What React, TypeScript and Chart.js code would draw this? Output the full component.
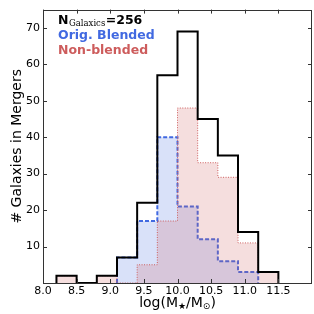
import React, { useEffect, useRef } from "react";
import { Chart, registerables } from "chart.js";

Chart.register(...registerables);

const binEdges = [8.2, 8.5, 8.8, 9.1, 9.4, 9.7, 10.0, 10.3, 10.6, 10.9, 11.2, 11.5];
const totalCounts = [2, 0, 2, 7, 22, 57, 69, 45, 35, 14, 3];
const blendedCounts = [0, 0, 0, 7, 17, 40, 21, 12, 6, 3, 0];
const nonBlendedCounts = [2, 0, 2, 0, 5, 17, 48, 33, 29, 11, 3];
const xTickValues = [8.0, 8.5, 9.0, 9.5, 10.0, 10.5, 11.0, 11.5];
const yTickValues = [10, 20, 30, 40, 50, 60, 70];

function stepPoints(counts: number[]) {
  let first = counts.findIndex((c) => c > 0);
  let last = counts.length - 1;
  while (last > first && counts[last] === 0) last--;
  const pts: { x: number; y: number }[] = [{ x: binEdges[first], y: 0 }];
  for (let i = first; i <= last; i++) pts.push({ x: binEdges[i], y: counts[i] });
  pts.push({ x: binEdges[last + 1], y: 0 });
  return pts;
}

const decorPlugin = {
  id: "decor",
  afterDraw(chart: any) {
    const { ctx, chartArea } = chart;
    const { left, right, top, bottom } = chartArea;
    const xs = chart.scales.x;
    const ys = chart.scales.y;
    ctx.save();
    ctx.strokeStyle = "#333";
    ctx.lineWidth = 1;
    ctx.strokeRect(Math.round(left) + 0.5, Math.round(top) + 0.5, Math.round(right - left) - 1, Math.round(bottom - top));
    const tl = 4;
    ctx.beginPath();
    xTickValues.forEach((v) => {
      const px = Math.round(xs.getPixelForValue(v)) + 0.5;
      ctx.moveTo(px, bottom);
      ctx.lineTo(px, bottom - tl);
      ctx.moveTo(px, top);
      ctx.lineTo(px, top + tl);
    });
    yTickValues.forEach((v) => {
      const py = Math.round(ys.getPixelForValue(v)) + 0.5;
      ctx.moveTo(left, py);
      ctx.lineTo(left + tl, py);
      ctx.moveTo(right, py);
      ctx.lineTo(right - tl, py);
    });
    ctx.stroke();

    ctx.textBaseline = "alphabetic";
    ctx.textAlign = "left";
    let x = 58;
    ctx.fillStyle = "#000";
    ctx.font = "bold 12.5px 'DejaVu Sans'";
    ctx.fillText("N", x, 24);
    x += ctx.measureText("N").width + 0.5;
    ctx.font = "8.5px 'DejaVu Serif'";
    ctx.fillText("Galaxics", x, 26);
    x += ctx.measureText("Galaxics").width + 0.5;
    ctx.font = "bold 12.5px 'DejaVu Sans'";
    ctx.fillText("=256", x, 24);
    ctx.fillStyle = "#4169e1";
    ctx.fillText("Orig. Blended", 58, 39);
    ctx.fillStyle = "#cd5c5c";
    ctx.fillText("Non-blended", 58, 54);

    ctx.save();
    ctx.translate(17, (top + bottom) / 2);
    ctx.rotate(-Math.PI / 2);
    ctx.fillStyle = "#000";
    ctx.font = "14px 'DejaVu Sans'";
    ctx.textAlign = "center";
    ctx.textBaseline = "middle";
    ctx.fillText("# Galaxies in Mergers", 0, 0);
    ctx.restore();

    const parts: [string, boolean][] = [["log(M", false], ["\u2605", true], ["/M", false], ["\u2299", true], [")", false]];
    const bigFont = "14px 'DejaVu Sans'";
    const smallFont = "9px 'DejaVu Sans'";
    let total = 0;
    parts.forEach(([t, sub]) => {
      ctx.font = sub ? smallFont : bigFont;
      total += ctx.measureText(t).width;
    });
    let cx = (left + right) / 2 - total / 2;
    const base = 307;
    ctx.fillStyle = "#000";
    ctx.textAlign = "left";
    ctx.textBaseline = "alphabetic";
    parts.forEach(([t, sub]) => {
      ctx.font = sub ? smallFont : bigFont;
      ctx.fillText(t, cx, sub ? base + 2 : base);
      cx += ctx.measureText(t).width;
    });
    ctx.restore();
  },
};

export default function App() {
  const ref = useRef<HTMLCanvasElement | null>(null);
  useEffect(() => {
    if (!ref.current) return;
    const chart = new Chart(ref.current, {
      type: "line",
      data: {
        datasets: [
          {
            label: "Orig. Blended",
            data: stepPoints(blendedCounts),
            stepped: "before",
            borderColor: "#4169e1",
            borderWidth: 2,
            borderDash: [4, 2],
            backgroundColor: "rgba(65,105,225,0.2)",
            fill: "origin",
            pointRadius: 0,
            order: 3,
          },
          {
            label: "Non-blended",
            data: stepPoints(nonBlendedCounts),
            stepped: "before",
            borderColor: "#cd5c5c",
            borderWidth: 1,
            borderDash: [1, 1.5],
            backgroundColor: "rgba(205,92,92,0.2)",
            fill: "origin",
            pointRadius: 0,
            order: 2,
          },
          {
            label: "Total",
            data: stepPoints(totalCounts),
            stepped: "before",
            borderColor: "#000",
            borderWidth: 2,
            fill: false,
            pointRadius: 0,
            order: 1,
          },
        ],
      },
      options: {
        responsive: false,
        animation: false,
        layout: { padding: { left: 0, right: 2, top: 5, bottom: 0 } },
        plugins: { legend: { display: false }, tooltip: { enabled: false } },
        scales: {
          x: {
            type: "linear",
            min: 8.0,
            max: 12.0,
            grid: { display: false, drawTicks: false },
            border: { display: false },
            afterBuildTicks: (s: any) => {
              s.ticks = xTickValues.map((v) => ({ value: v }));
            },
            afterFit: (s: any) => {
              s.height = 31;
            },
            ticks: {
              autoSkip: false,
              maxRotation: 0,
              padding: 2,
              color: "#000",
              font: { family: "'DejaVu Sans'", size: 11 },
              callback: (v: any) => Number(v).toFixed(1),
            },
          },
          y: {
            type: "linear",
            min: 0,
            max: 75,
            grid: { display: false, drawTicks: false },
            border: { display: false },
            afterBuildTicks: (s: any) => {
              s.ticks = yTickValues.map((v) => ({ value: v }));
            },
            afterFit: (s: any) => {
              s.width = 43;
            },
            ticks: {
              padding: 3,
              color: "#000",
              font: { family: "'DejaVu Sans'", size: 11 },
              callback: (v: any) => String(v),
            },
          },
        },
      },
      plugins: [decorPlugin],
    });
    return () => chart.destroy();
  }, []);
  return (
    <div style={{ position: "fixed", left: 0, top: 0, width: 314, height: 314, background: "#fff" }}>
      <canvas ref={ref} width={314} height={314} style={{ display: "block", width: 314, height: 314 }} />
    </div>
  );
}
